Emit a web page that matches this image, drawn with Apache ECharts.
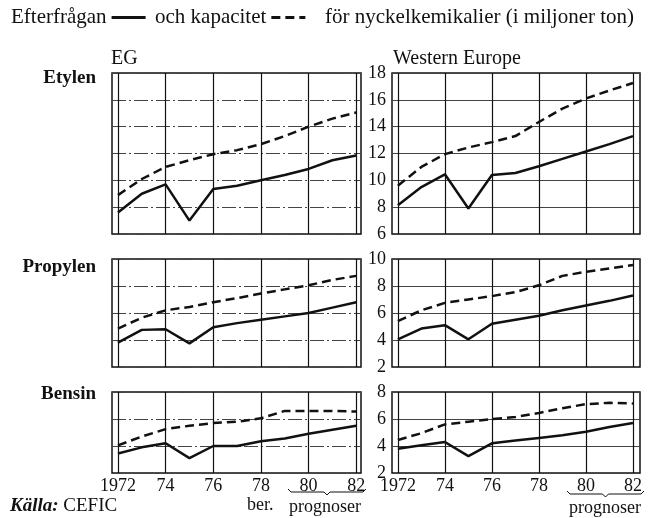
<!DOCTYPE html>
<html>
<head>
<meta charset="utf-8">
<script src="https://cdn.jsdelivr.net/npm/echarts@6/dist/echarts.min.js"></script>
<style>
  html, body { margin: 0; background: #fff; }
  #chart { width: 654px; height: 518px; }
</style>
</head>
<body>
<div id="chart"></div>
<script>
const years = [1972, 1973, 1974, 1975, 1976, 1977, 1978, 1979, 1980, 1981, 1982]
const xTicks = [1972, 1974, 1976, 1978, 1980, 1982]
const xTickLabels = ['1972', '74', '76', '78', '80', '82']
const etylenTicks = [6, 8, 10, 12, 14, 16, 18]
const propylenTicks = [2, 4, 6, 8, 10]
const bensinTicks = [2, 4, 6, 8]

// efterfrågan (heldragen) och kapacitet (streckad), miljoner ton
const egEtylenDemand = [7.6, 9.0, 9.7, 7.0, 9.35, 9.6, 10.0, 10.4, 10.85, 11.5, 11.85]
const egEtylenCapacity = [8.9, 10.1, 11.0, 11.5, 11.95, 12.25, 12.7, 13.3, 14.0, 14.6, 15.05]
const weEtylenDemand = [8.15, 9.5, 10.45, 7.9, 10.4, 10.55, 11.05, 11.6, 12.15, 12.7, 13.3]
const weEtylenCapacity = [9.6, 11.0, 11.95, 12.45, 12.85, 13.3, 14.35, 15.35, 16.1, 16.7, 17.25]
const egPropylenDemand = [3.8, 4.75, 4.8, 3.75, 4.95, 5.25, 5.5, 5.75, 6.0, 6.4, 6.8]
const egPropylenCapacity = [4.85, 5.65, 6.2, 6.45, 6.8, 7.1, 7.45, 7.75, 8.05, 8.45, 8.75]
const wePropylenDemand = [4.05, 4.85, 5.1, 4.05, 5.2, 5.5, 5.8, 6.2, 6.55, 6.9, 7.3]
const wePropylenCapacity = [5.4, 6.2, 6.75, 7.0, 7.25, 7.55, 8.05, 8.75, 9.05, 9.3, 9.55]
const egBensinDemand = [3.45, 3.9, 4.2, 3.1, 4.0, 4.0, 4.35, 4.55, 4.9, 5.2, 5.5]
const egBensinCapacity = [4.05, 4.7, 5.25, 5.5, 5.7, 5.8, 6.05, 6.6, 6.6, 6.6, 6.55]
const weBensinDemand = [3.8, 4.05, 4.3, 3.25, 4.2, 4.4, 4.6, 4.8, 5.05, 5.4, 5.7]
const weBensinCapacity = [4.45, 4.95, 5.6, 5.8, 6.0, 6.15, 6.45, 6.8, 7.1, 7.2, 7.15]

const font = 'Liberation Serif'
const ink = '#111'

const rows = [
  { top: 73, height: 161, ticks: etylenTicks, data: [[egEtylenDemand, egEtylenCapacity], [weEtylenDemand, weEtylenCapacity]] },
  { top: 259, height: 108, ticks: propylenTicks, data: [[egPropylenDemand, egPropylenCapacity], [wePropylenDemand, wePropylenCapacity]] },
  { top: 392, height: 81, ticks: bensinTicks, data: [[egBensinDemand, egBensinCapacity], [weBensinDemand, weBensinCapacity]] }
]
const cols = [
  { left: 112, width: 249, max: 1982.2, gridType: [14, 3, 2, 3] },
  { left: 392, width: 248, max: 1982.3, gridType: 'solid' }
]

const grid = []
const xAxis = []
const yAxis = []
const series = []

rows.forEach((row, r) => {
  cols.forEach((col, c) => {
    const idx = grid.length
    grid.push({
      left: col.left, top: row.top, width: col.width, height: row.height,
      show: true, borderColor: ink, borderWidth: 1.5
    })
    xAxis.push({
      type: 'value', gridIndex: idx, min: 1971.75, max: col.max,
      axisLine: { show: false },
      axisTick: { show: false, customValues: xTicks },
      axisLabel: {
        show: r === rows.length - 1,
        customValues: xTicks,
        formatter: v => xTickLabels[xTicks.indexOf(v)],
        fontFamily: font, fontSize: 18, color: ink, margin: 4
      },
      splitLine: { show: true, lineStyle: { color: ink, width: 1.2 } }
    })
    yAxis.push({
      type: 'value', gridIndex: idx,
      min: row.ticks[0], max: row.ticks[row.ticks.length - 1], interval: 2,
      axisLine: { show: false },
      axisTick: { show: false },
      axisLabel: { show: c === 1, fontFamily: font, fontSize: 18, color: ink, margin: 6 },
      splitLine: { show: true, lineStyle: { color: '#444', width: 1, type: col.gridType } }
    })
    const [demand, capacity] = row.data[c]
    series.push({
      name: 'Efterfrågan', type: 'line', xAxisIndex: idx, yAxisIndex: idx,
      symbol: 'none', silent: true,
      itemStyle: { color: ink },
      lineStyle: { color: ink, width: 2.5 },
      data: years.map((y, i) => [y, demand[i]])
    })
    series.push({
      name: 'och kapacitet', type: 'line', xAxisIndex: idx, yAxisIndex: idx,
      symbol: 'none', silent: true,
      itemStyle: { color: ink },
      lineStyle: { color: ink, width: 2.5, type: [9, 5] },
      data: years.map((y, i) => [y, capacity[i]])
    })
  })
})

// klammer under "prognoser"
function brace(x1, x2, y, h) {
  const m = (x1 + x2) / 2
  const y2 = y + h / 2
  return [[x1, y], [x1 + 3, y2], [m - 3, y2], [m, y + h], [m + 3, y2], [x2 - 3, y2], [x2, y]]
}

const textStyle = (extra) => Object.assign({ fontFamily: font, fontSize: 20, fill: ink }, extra)

const chart = echarts.init(document.getElementById('chart'))
chart.setOption({
  backgroundColor: '#fff',
  animation: false,
  legend: {
    data: ['Efterfrågan', 'och kapacitet'],
    left: 6, top: 2, align: 'right',
    itemWidth: 34, itemHeight: 12, itemGap: 8,
    selectedMode: false,
    itemStyle: { opacity: 0 },
    lineStyle: { width: 2.8 },
    textStyle: { fontFamily: font, fontSize: 21, color: ink }
  },
  title: {
    text: 'för nyckelkemikalier (i miljoner ton)',
    left: 320, top: 2,
    textStyle: { fontFamily: font, fontSize: 21, fontWeight: 'normal', color: ink }
  },
  grid, xAxis, yAxis, series,
  graphic: [
    { type: 'text', x: 96, y: 69, style: textStyle({ text: 'Etylen', fontWeight: 'bold', fontSize: 19, align: 'right' }) },
    { type: 'text', x: 96, y: 258, style: textStyle({ text: 'Propylen', fontWeight: 'bold', fontSize: 19, align: 'right' }) },
    { type: 'text', x: 96, y: 385, style: textStyle({ text: 'Bensin', fontWeight: 'bold', fontSize: 19, align: 'right' }) },
    { type: 'text', x: 111, y: 49, style: textStyle({ text: 'EG' }) },
    { type: 'text', x: 393, y: 49, style: textStyle({ text: 'Western Europe' }) },
    {
      type: 'text', x: 10, y: 497,
      style: {
        text: '{i|Källa:} CEFIC',
        fontFamily: font, fontSize: 19, fill: ink,
        rich: { i: { fontFamily: font, fontSize: 19, fontStyle: 'italic', fontWeight: 'bold' } }
      }
    },
    { type: 'text', x: 247, y: 496, style: textStyle({ text: 'ber.', fontSize: 18 }) },
    { type: 'text', x: 289, y: 498, style: textStyle({ text: 'prognoser', fontSize: 18 }) },
    { type: 'text', x: 569, y: 499, style: textStyle({ text: 'prognoser', fontSize: 18 }) },
    { type: 'polyline', shape: { points: brace(288, 366, 489, 6) }, style: { fill: null, stroke: ink, lineWidth: 1 } },
    { type: 'polyline', shape: { points: brace(567, 644, 491, 6) }, style: { fill: null, stroke: ink, lineWidth: 1 } }
  ]
})
</script>
</body>
</html>
